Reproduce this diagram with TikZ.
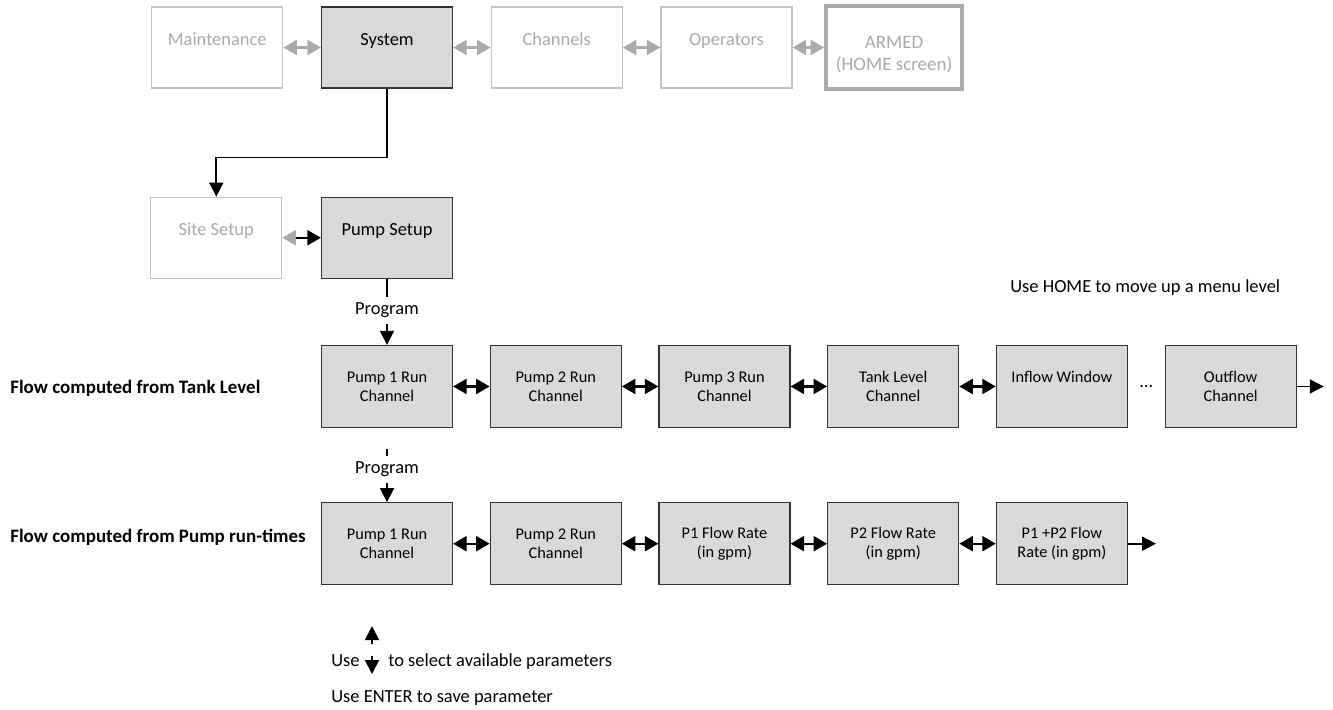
\documentclass[tikz,border=0pt]{standalone}
\usepackage{fontspec}
\setmainfont{Carlito}
\usepackage{tikz}
\usetikzlibrary{arrows.meta,shapes,positioning}
\usetikzlibrary{calc}
\definecolor{boxgray}{RGB}{217,217,217}
\definecolor{offgray}{RGB}{170,170,170}
\definecolor{offline}{RGB}{195,195,195}
\tikzstyle{menubox} = [draw=black!80, fill=boxgray, line width=0.7pt, minimum width=2.62cm, minimum height=1.62cm, inner sep=2pt, align=center, font=\fontsize{10.5}{12}\selectfont]
\tikzstyle{offbox}  = [menubox, draw=offline, fill=white, text=offgray]
\tikzstyle{chanbox} = [menubox, minimum height=1.64cm, font=\fontsize{9.3}{10.8}\selectfont]
\tikzstyle{raised}  = [text height=8pt, text depth=10.8pt]
\tikzstyle{arrow}   = [line width=1pt, -{Triangle[length=2.8mm,width=2.8mm]}]
\tikzstyle{dbl}     = [line width=1.2pt, {Triangle[length=2.7mm,width=3mm]}-{Triangle[length=2.7mm,width=3mm]}]
\tikzstyle{graydbl} = [dbl, draw=offgray]
\tikzstyle{prog}    = [fill=white, inner xsep=1pt, inner ysep=3.5pt, font=\fontsize{10.5}{12}\selectfont]
\tikzstyle{note}    = [inner sep=0pt, font=\fontsize{10.5}{12}\selectfont]

\begin{document}
\begin{tikzpicture}
    \useasboundingbox (0,0) rectangle (26.66,-14.2);
    % top menu level
    \node[menubox, raised] (sys) at (7.74,-0.95) {System};
    \node[offbox, raised, left=0.75cm of sys] (maint) {Maintenance};
    \node[offbox, raised, right=0.75cm of sys] (chan) {Channels};
    \node[offbox, raised, right=0.75cm of chan] (oper) {Operators};
    \node[offbox, right=0.63cm of oper, draw=offgray, line width=2.3pt, minimum width=2.72cm, minimum height=1.66cm, text height=27.5pt, font=\fontsize{10.8}{12.2}\selectfont] (armed) {ARMED\\(HOME screen)};
    \foreach \a/\b in {maint/sys,sys/chan,chan/oper,oper/armed}
        \draw[graydbl] (\a) -- (\b);
    % system sub menu
    \node[menubox, raised, below=2.16cm of sys] (pset) {Pump Setup};
    \node[offbox, raised, left=0.77cm of pset] (site) {Site Setup};
    \draw[line width=1.2pt, {Triangle[length=2.7mm,width=3mm,color=offgray]}-{Triangle[length=2.7mm,width=3mm]}] (site) -- (pset);
    \draw[arrow] (sys.south) -- ++(0,-1.38) -| (site.north);
    \node[note, anchor=base west] (homeNote) at (20.2,-5.84) {Use HOME to move up a menu level};
    % flow from tank level
    \node[chanbox, below=1.32cm of pset] (ta) {Pump 1 Run\\Channel};
    \node[chanbox, right=0.73cm of ta] (tb) {Pump 2 Run\\Channel};
    \node[chanbox, right=0.73cm of tb] (tc) {Pump 3 Run\\Channel};
    \node[chanbox, right=0.73cm of tc] (td) {Tank Level\\Channel};
    \node[chanbox, raised, text depth=12.8pt, right=0.73cm of td] (te) {Inflow Window};
    \node[chanbox, right=0.73cm of te] (tf) {Outflow\\Channel};
    \node[note] (tdots) at ($(te.east)!0.5!(tf.west)$) {...};
    \coordinate[right=0.54cm of tf.east] (tfOut);
    \foreach \a/\b in {ta/tb,tb/tc,tc/td,td/te}
        \draw[dbl] (\a) -- (\b);
    \draw[arrow] (tf) -- (tfOut);
    \draw[arrow] (pset.south) -- node[prog, pos=0.48] (progA) {Program} (ta.north);
    \node[note, font=\bfseries\fontsize{10.8}{12}\selectfont, anchor=base west] (tankLbl) at (0.2,-7.86) {Flow computed from Tank Level};
    % flow from pump run-times
    \node[chanbox, below=1.48cm of ta] (ra) {Pump 1 Run\\Channel};
    \node[chanbox, right=0.73cm of ra] (rb) {Pump 2 Run\\Channel};
    \node[chanbox, right=0.73cm of rb] (rc) {P1 Flow Rate\\(in gpm)};
    \node[chanbox, right=0.73cm of rc] (rd) {P2 Flow Rate\\(in gpm)};
    \node[chanbox, right=0.73cm of rd] (re) {P1 +P2 Flow\\Rate (in gpm)};
    \coordinate[right=0.56cm of re.east] (reOut);
    \foreach \a/\b in {ra/rb,rb/rc,rc/rd,rd/re}
        \draw[dbl] (\a) -- (\b);
    \draw[arrow] (re) -- (reOut);
    \coordinate[above=1.06cm of ra.north] (tick);
    \draw[arrow] (tick) -- node[prog, pos=0.38] (progB) {Program} (ra.north);
    \node[note, font=\bfseries\fontsize{10.8}{12}\selectfont, anchor=base west] (pumpLbl) at (0.2,-10.84) {Flow computed from Pump run-times};
    % legend
    \node[note, anchor=base west] (useA) at (6.62,-13.32) {Use};
    \coordinate (upA) at (7.44,-12.88);
    \coordinate (upB) at (7.44,-12.52);
    \coordinate (dnA) at (7.44,-13.12);
    \coordinate (dnB) at (7.44,-13.48);
    \draw[arrow] (upA) -- (upB);
    \draw[arrow] (dnA) -- (dnB);
    \node[note, anchor=base west] (selNote) at (7.76,-13.32) {to select available parameters};
    \node[note, anchor=base west] (useB) at (6.62,-14.04) {Use ENTER to save parameter};
\end{tikzpicture}
\end{document}
